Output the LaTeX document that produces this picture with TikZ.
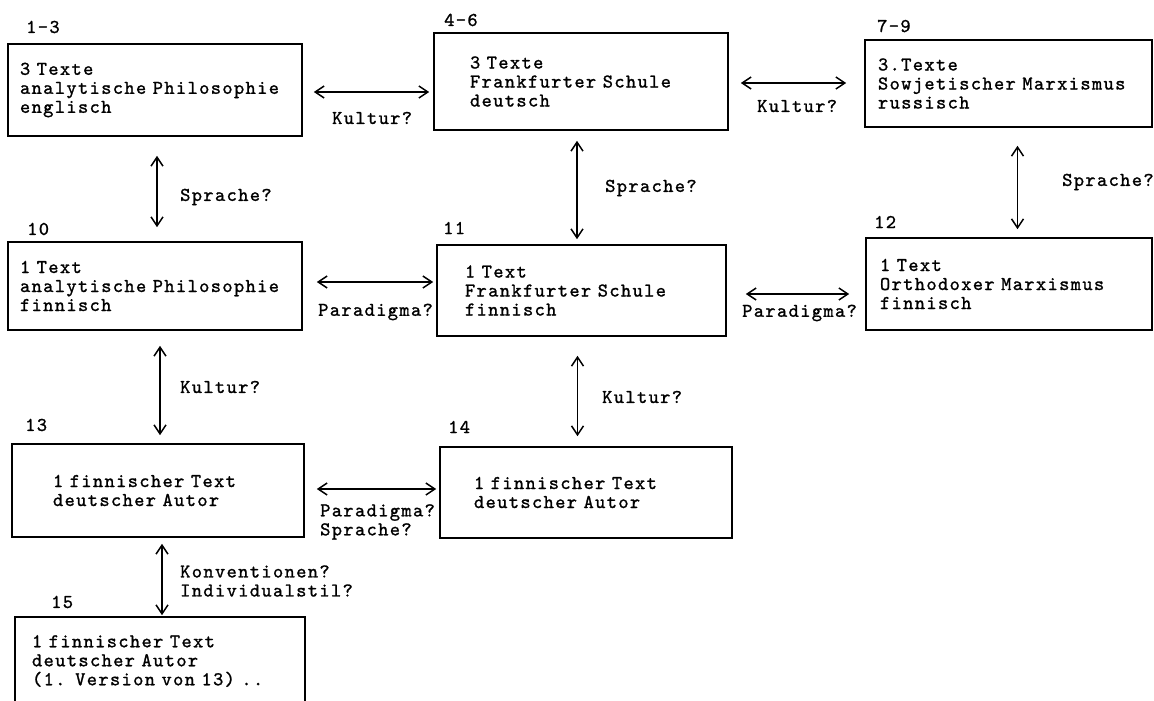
\documentclass[tikz,border=0pt]{standalone}
\usepackage{fontspec}
\usetikzlibrary{arrows.meta}
\newfontfamily\tw{lmmono10-regular.otf}[LetterSpace=7,FakeBold=1.2]

\tikzset{
  box/.style={draw, line width=1.6pt, align=left, inner ysep=0pt,
    font=\tw\fontsize{19.5}{19}\selectfont},
  link/.style={line width=1.5pt, <->, >={Straight Barb[length=9pt,width=12pt]}},
  num/.style={anchor=west, inner sep=0pt, font=\tw\fontsize{19.5}{19}\selectfont},
  lab/.style={anchor=west, inner sep=0pt, align=left, font=\tw\fontsize{19.5}{19}\selectfont}
}

\begin{document}
\begin{tikzpicture}[x=1pt,y=-1pt]
\useasboundingbox (0,0) rectangle (1154,701);
% top row
\node[box, minimum width=294pt, minimum height=92pt, text width=270pt, inner xsep=12pt] (b13) at (155,90) {3 Texte\\analytische Philosophie\\englisch};
\node[box, minimum width=294pt, minimum height=97pt, text width=222pt, inner xsep=36pt] (b46) at (581,81.5) {3 Texte\\Frankfurter Schule\\deutsch};
\node[box, minimum width=287pt, minimum height=87pt, text width=261pt, inner xsep=13pt] (b79) at (1008.5,83.5) {3.Texte\\Sowjetischer Marxismus\\russisch};
% middle row
\node[box, minimum width=294pt, minimum height=88pt, text width=270pt, inner xsep=12pt] (b10) at (155,286) {1 Text\\analytische Philosophie\\finnisch};
\node[box, minimum width=289pt, minimum height=91pt, text width=233pt, inner xsep=28pt] (b11) at (581.5,290.5) {1 Text\\Frankfurter Schule\\finnisch};
\node[box, minimum width=286pt, minimum height=92pt, text width=258pt, inner xsep=14pt] (b12) at (1009,284) {1 Text\\Orthodoxer Marxismus\\finnisch};
% lower rows
\node[box, minimum width=292pt, minimum height=93pt, text width=210pt, inner xsep=41pt] (b13a) at (158,490.5) {1 finnischer Text\\deutscher Autor};
\node[box, minimum width=292pt, minimum height=91pt, text width=224pt, inner xsep=34pt] (b14) at (586,492.5) {1 finnischer Text\\deutscher Autor};
\node[box, minimum width=290pt, minimum height=88pt, text width=256pt, inner xsep=17pt] (b15) at (160,661) {1 finnischer Text\\deutscher Autor\\(1. Version von 13) ..};

% numbers
\node[num] (n13) at (26,27) {1-3};
\node[num] (n46) at (444,20) {4-6};
\node[num] (n79) at (877,26) {7-9};
\node[num] (n10) at (27,229) {10};
\node[num] (n11) at (443,228) {11};
\node[num] (n12) at (874,222) {12};
\node[num] (n13b) at (25,425) {13};
\node[num] (n14) at (448,427) {14};
\node[num] (n15) at (51,602) {15};

% connectors
\draw[link, shorten <=11pt, shorten >=4pt] ([yshift=-2pt]b13.east) -- ([yshift=-2pt]b13.east -| b46.west);
\draw[link, shorten <=12pt, shorten >=18pt] ([yshift=-1.5pt]b46.east) -- ([yshift=-1.5pt]b46.east -| b79.west);
\draw[link, shorten <=19pt, shorten >=14pt] ([xshift=2pt]b13.south) -- ([xshift=2pt]b13.south |- b10.north);
\draw[link, shorten <=10pt, shorten >=5pt] ([xshift=-4pt]b46.south) -- ([xshift=-4pt]b46.south |- b11.north);
\draw[link, shorten <=18pt, shorten >=8pt] ([xshift=9pt]b79.south) -- ([xshift=9pt]b79.south |- b12.north);
\draw[link, shorten <=14pt, shorten >=3pt] ([yshift=4pt]b10.east) -- ([yshift=4pt]b10.east -| b11.west);
\draw[link, shorten <=19pt, shorten >=16pt] ([yshift=-3.5pt]b11.east) -- ([yshift=-3.5pt]b11.east -| b12.west);
\draw[link, shorten <=15pt, shorten >=8pt] ([xshift=5pt]b10.south) -- ([xshift=5pt]b10.south |- b13a.north);
\draw[link, shorten <=19pt, shorten >=10pt] ([xshift=-4pt]b11.south) -- ([xshift=-4pt]b11.south |- b14.north);
\draw[link, shorten <=12pt, shorten >=3pt] ([yshift=1.5pt]b13a.east) -- ([yshift=1.5pt]b13a.east -| b14.west);
\draw[link, shorten <=6pt, shorten >=1pt] ([xshift=4pt]b13a.south) -- ([xshift=4pt]b13a.south |- b15.north);

% labels
\node[lab] (l1) at (332,118) {Kultur?};
\node[lab] (l2) at (757,106) {Kultur?};
\node[lab] (l3) at (180,197) {Sprache?};
\node[lab] (l4) at (605,188) {Sprache?};
\node[lab] (l5) at (1062,182) {Sprache?};
\node[lab] (l6) at (318,312) {Paradigma?};
\node[lab] (l7) at (742,313) {Paradigma?};
\node[lab] (l8) at (180,387) {Kultur?};
\node[lab] (l9) at (602,397) {Kultur?};
\node[lab] (l10) at (320,522) {Paradigma?\\Sprache?};
\node[lab] (l11) at (180,581) {Konventionen?\\Individualstil?};
\end{tikzpicture}
\end{document}
